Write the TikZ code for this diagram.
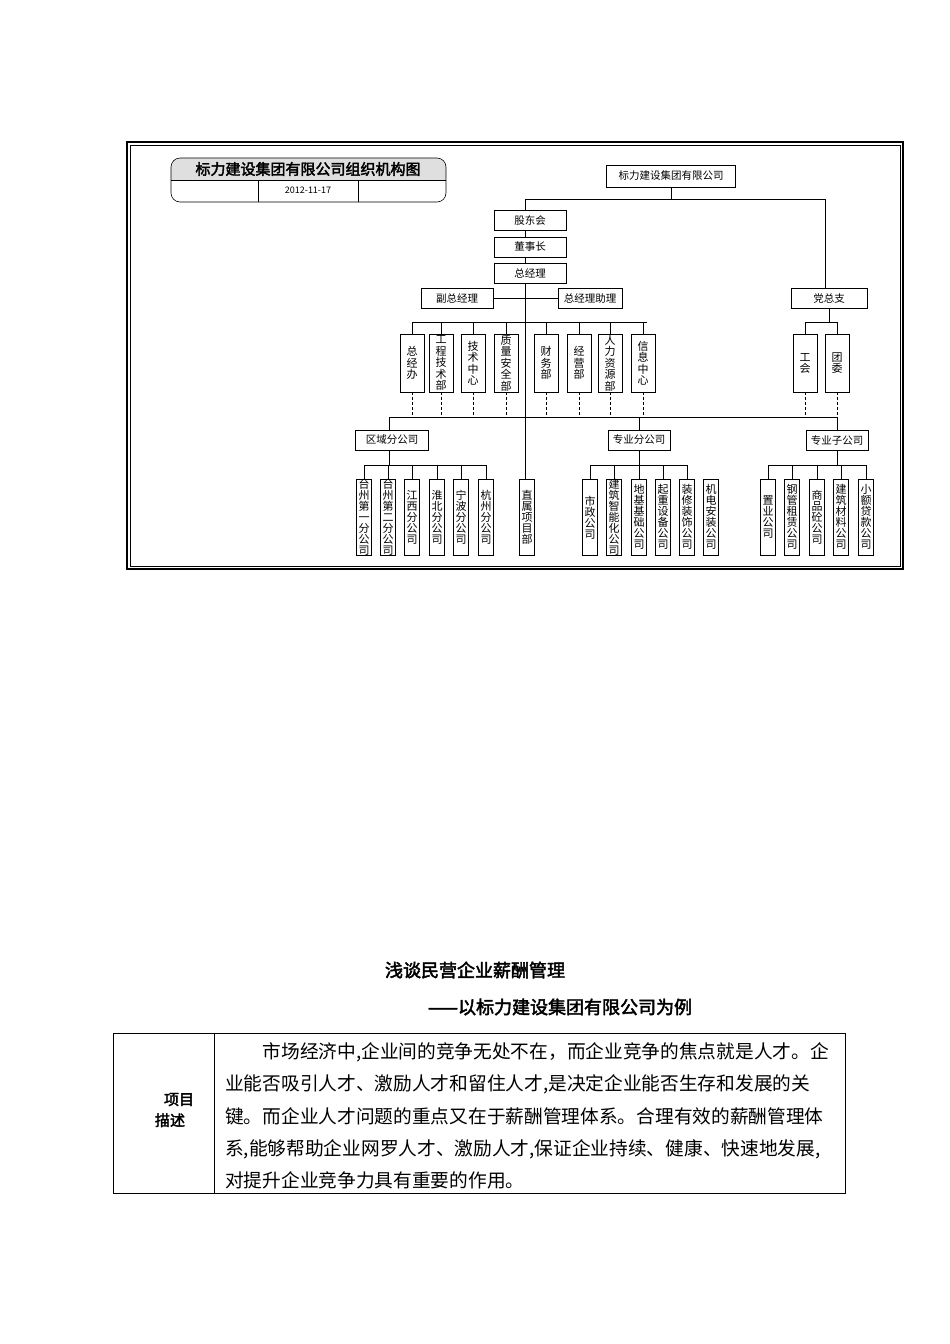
\documentclass[tikz,border=0pt]{standalone}
\usepackage{fontspec}
\setmainfont{Noto Sans CJK SC}[AutoFakeBold=2.5]
\begin{document}
\begin{tikzpicture}[x=1pt,y=-1pt,
  box/.style={draw,line width=0.5pt,inner sep=0pt,font=\fontsize{10.5}{11}\selectfont},
  hb/.style={box,minimum width=72pt,minimum height=20pt},
  db/.style={box,anchor=north,minimum width=24pt,minimum height=58pt,align=center,font=\fontsize{11}{11.5}\selectfont},
  sb/.style={box,anchor=north,minimum width=15pt,minimum height=76pt,align=center,font=\fontsize{11}{11}\selectfont},
  ln/.style={line width=0.5pt},
  dl/.style={line width=0.5pt,dashed,dash pattern=on 3pt off 2pt}]
\useasboundingbox (0,0) rectangle (950,1344);
% frame
\draw[line width=1.6pt] (127,142) rectangle (903,569);
\draw[line width=0.4pt] (130,145) rectangle (900,566);
% title box
\begin{scope}
\clip[rounded corners=9pt] (171,158) rectangle (446,202);
\fill[gray!25] (171,158) rectangle (446,180);
\end{scope}
\draw[rounded corners=9pt,line width=0.6pt] (171,158) rectangle (446,202);
\draw[line width=0.6pt] (171,180) -- (446,180) (258,180) -- (258,202) (358,180) -- (358,202);
\node[font=\bfseries\fontsize{15}{16}\selectfont] (ttl) at (308,169) {标力建设集团有限公司组织机构图};
\node[font=\rmfamily\fontsize{9}{10}\selectfont] (dt) at (308,190) {2012-11-17};
% top
\node[box,minimum width=129pt,minimum height=22pt] (top) at (671,176) {标力建设集团有限公司};
\node[hb] (gd) at (530,220) {股东会};
\node[hb] (dsz) at (530,247) {董事长};
\node[hb] (zjl) at (530,273) {总经理};
\node[hb] (fz) at (457,298.5) {副总经理};
\node[hb,minimum width=64pt] (zz) at (590,298.5) {总经理助理};
\node[hb,minimum width=76pt] (dzz) at (829,298.5) {党总支};
\coordinate (t1) at (671,199);
\draw[ln] (top.south) -- (t1) (525,199) -- (825,199) -- (825,289);
\draw[ln] (525,199) -- (525,210) (525,230) -- (525,237) (525,257) -- (525,263);
\draw[ln] (525,283) -- (525,479);
\draw[ln] (fz.east) -- (zz.west);
% departments
\draw[ln] (412,322) -- (647,322);
\foreach \x/\t in {412/总\\经\\办, 441/工\\程\\技\\术\\部, 473/技\\术\\中\\心, 506/质\\量\\安\\全\\部, 546/财\\务\\部, 579/经\\营\\部, 610/人\\力\\资\\源\\部, 643/信\\息\\中\\心}{
  \node[db] (d\x) at (\x,334) {\t};
  \draw[ln] (\x,322) -- (\x,334);
  \draw[dl] (\x,392) -- (\x,417);
}
\draw[ln] (829,308) -- (829,322);
\draw[ln] (805,322) -- (837,322);
\foreach \x/\t in {805/工\\会, 837/团\\委}{
  \node[db] (p\x) at (\x,334) {\t};
  \draw[ln] (\x,322) -- (\x,334);
  \draw[dl] (\x,392) -- (\x,417);
}
\draw[ln] (389,417) -- (837,417);
\node[hb,minimum width=73pt] (qy) at (392,440) {区域分公司};
\node[hb,minimum width=62pt] (zyf) at (639,440) {专业分公司};
\node[hb,minimum width=62pt] (zyz) at (837,440) {专业子公司};
\draw[ln] (389,417) -- (389,430) (639,417) -- (639,430) (837,417) -- (837,430);
\draw[ln] (389,450) -- (389,465) (639,450) -- (639,465) (837,450) -- (837,465);
% bottom boxes
\draw[ln] (364,465) -- (486,465);
\foreach \x/\t in {364/台\\州\\第\\一\\分\\公\\司, 388/台\\州\\第\\二\\分\\公\\司, 412/江\\西\\分\\公\\司, 437/淮\\北\\分\\公\\司, 461/宁\\波\\分\\公\\司, 486/杭\\州\\分\\公\\司}{
  \node[sb] (a\x) at (\x,479) {\t};
  \draw[ln] (\x,465) -- (\x,479);
}
\node[sb] (zs) at (527,479) {直\\属\\项\\目\\部};
\draw[ln] (590,465) -- (687,465);
\foreach \x/\t in {590/市\\政\\公\\司, 614/建\\筑\\智\\能\\化\\公\\司, 639/地\\基\\基\\础\\公\\司, 663/起\\重\\设\\备\\公\\司, 687/装\\修\\装\\饰\\公\\司, 711/机\\电\\安\\装\\公\\司}{
  \node[sb] (b\x) at (\x,479) {\t};
}
\foreach \x in {590,614,639,663,687}{\draw[ln] (\x,465) -- (\x,479);}
\draw[ln] (768,465) -- (866,465);
\foreach \x/\t in {768/置\\业\\公\\司, 792/钢\\管\\租\\赁\\公\\司, 817/商\\品\\砼\\公\\司, 841/建\\筑\\材\\料\\公\\司, 866/小\\额\\贷\\款\\公\\司}{
  \node[sb] (c\x) at (\x,479) {\t};
  \draw[ln] (\x,465) -- (\x,479);
}
% lower document part
\node[font=\bfseries\fontsize{18}{20}\selectfont] (h1) at (475,970) {浅谈民营企业薪酬管理};
\node[font=\bfseries\fontsize{18}{20}\selectfont] (h2) at (560,1007) {——以标力建设集团有限公司为例};
\draw[line width=0.6pt] (113,1033) rectangle (845,1193) (214,1033) -- (214,1193);
\node[font=\bfseries\fontsize{15}{21}\selectfont,align=center] (lb) at (170,1110) {\hspace*{1.2em}项目\\描述};
\begin{scope}[every node/.style={anchor=west,inner sep=0pt,font=\fontsize{18.7}{19}\selectfont}]
\node (l1) at (225,1052) {\hspace*{2em}市场经济中,企业间的竞争无处不在，而企业竞争的焦点就是人才。企};
\node (l2) at (225,1084) {业能否吸引人才、激励人才和留住人才,是决定企业能否生存和发展的关};
\node (l3) at (225,1116) {键。而企业人才问题的重点又在于薪酬管理体系。合理有效的薪酬管理体};
\node (l4) at (225,1149) {系,能够帮助企业网罗人才、激励人才,保证企业持续、健康、快速地发展,};
\node (l5) at (225,1180) {对提升企业竞争力具有重要的作用。};
\end{scope}
\end{tikzpicture}
\end{document}
